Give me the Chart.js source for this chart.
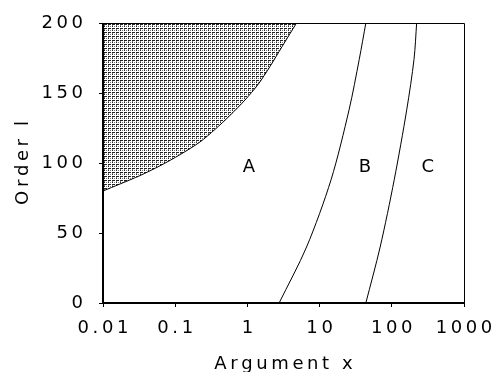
<!DOCTYPE html>
<html>
<head>
<meta charset="utf-8">
<script src="https://cdn.jsdelivr.net/npm/chart.js@4.4.1/dist/chart.umd.min.js"></script>
<style>
html,body{margin:0;padding:0;background:#fff;}
#wrap{width:496px;height:372px;position:relative;}
</style>
</head>
<body>
<div id="wrap"><canvas id="c"></canvas></div>
<script>
// axis ticks
var xTicks = [0.01, 0.1, 1, 10, 100, 1000];
var xTickLabels = ["0.01", "0.1", "1", "10", "100", "1000"];

// boundary of the hatched region
var shadeX = [0.01, 0.0172, 0.0325, 0.0616, 0.117, 0.22, 0.356, 0.574, 0.926, 1.4, 2.06, 3.01, 4.79];
var shadeY = [80, 85, 91, 98, 106, 115, 124, 134, 145, 156, 169, 183, 200];

// curve between A and B
var curveBX = [2.75, 6.6, 14.4, 25.6, 35.4, 43.7];
var curveBY = [0, 40, 88, 138, 174, 200];

// curve between B and C
var curveCX = [43.7, 69, 108, 161, 203, 221];
var curveCY = [0, 40, 88, 138, 174, 200];

// region labels
var regionNames = ["A", "B", "C"];
var regionX = [1.05, 42.6, 316];
var regionY = [97, 97, 97];

var FONT = {family: "'DejaVu Sans', sans-serif", size: 18};

// the original type is set wide, so put a thin space between letters
function spread(s){
    return String(s).split('').join('\u2009');
}

function toPoints(xs, ys){
    var pts = [];
    for(var i=0;i<xs.length;i++){
        pts.push({x: xs[i], y: ys[i]});
    }
    return pts;
}

function makeHatch(ctx){
    var p = document.createElement('canvas');
    p.width = 4; p.height = 4;
    var g = p.getContext('2d');
    g.fillStyle = '#fff';
    g.fillRect(0, 0, 4, 4);
    g.fillStyle = '#222';
    g.fillRect(0, 0, 3, 1);
    g.fillRect(0, 2, 1, 1);
    g.fillStyle = '#777';
    g.fillRect(2, 2, 1, 1);
    g.fillRect(0, 1, 1, 1);
    return ctx.createPattern(p, 'repeat');
}

// box round the plot, region letters
var extras = {
    id: 'extras',
    afterDatasetsDraw: function(chart){
        var ctx = chart.ctx, a = chart.chartArea;
        var xs = chart.scales.x, ys = chart.scales.y;
        ctx.save();
        ctx.strokeStyle = '#000';
        ctx.lineWidth = 1;
        ctx.beginPath();
        ctx.moveTo(a.left, a.top + 0.5);
        ctx.lineTo(a.right + 0.5, a.top + 0.5);
        ctx.lineTo(a.right + 0.5, a.bottom);
        ctx.stroke();
        ctx.lineWidth = 2;
        ctx.beginPath();
        ctx.moveTo(a.left, a.top);
        ctx.lineTo(a.left, a.bottom);
        ctx.lineTo(a.right + 1, a.bottom);
        ctx.stroke();
        ctx.fillStyle = '#000';
        ctx.font = FONT.size + "px " + FONT.family;
        ctx.textAlign = 'center';
        ctx.textBaseline = 'middle';
        for(var i=0;i<regionNames.length;i++){
            ctx.fillText(regionNames[i], xs.getPixelForValue(regionX[i]), ys.getPixelForValue(regionY[i]));
        }
        ctx.restore();
    }
};

var canvas = document.getElementById('c');
var hatch = makeHatch(canvas.getContext('2d'));

var lineDs = {
    showLine: true,
    borderColor: '#000',
    borderWidth: 1,
    pointRadius: 0,
    tension: 0.3
};

new Chart(canvas, {
    type: 'scatter',
    data: {
        datasets: [
            Object.assign({}, lineDs, {data: toPoints(shadeX, shadeY), fill: 'end', backgroundColor: hatch}),
            Object.assign({}, lineDs, {data: toPoints(curveBX, curveBY), fill: false}),
            Object.assign({}, lineDs, {data: toPoints(curveCX, curveCY), fill: false})
        ]
    },
    options: {
        responsive: true,
        maintainAspectRatio: false,
        animation: false,
        layout: {padding: {top: 23, right: 32, left: 0, bottom: 0}},
        plugins: {legend: {display: false}, tooltip: {enabled: false}},
        scales: {
            x: {
                type: 'logarithmic',
                min: 0.01,
                max: 1000,
                afterBuildTicks: function(s){
                    s.ticks = xTicks.map(function(v){ return {value: v}; });
                },
                afterFit: function(s){ s.height = 69; s.paddingLeft = 0; s.paddingRight = 0; },
                ticks: {
                    font: FONT, color: '#000', padding: 11, maxRotation: 0, autoSkip: false,
                    callback: function(v, i){ return spread(xTickLabels[i]); }
                },
                grid: {drawOnChartArea: false, tickLength: 4, color: '#000'},
                border: {display: false},
                title: {display: true, text: spread('Argument x'), font: FONT, color: '#000', padding: {top: 0, bottom: -3}}
            },
            y: {
                type: 'linear',
                min: 0,
                max: 200,
                afterFit: function(s){ s.width = 103; s.paddingTop = 0; s.paddingBottom = 0; },
                ticks: {
                    stepSize: 50, font: FONT, color: '#000', padding: 16,
                    callback: function(v){ return spread(v); }
                },
                grid: {drawOnChartArea: false, tickLength: 4, color: '#000'},
                border: {display: false},
                title: {display: true, text: spread('Order l'), font: FONT, color: '#000', padding: {top: 13, bottom: 0}}
            }
        }
    },
    plugins: [extras]
});
</script>
</body>
</html>
